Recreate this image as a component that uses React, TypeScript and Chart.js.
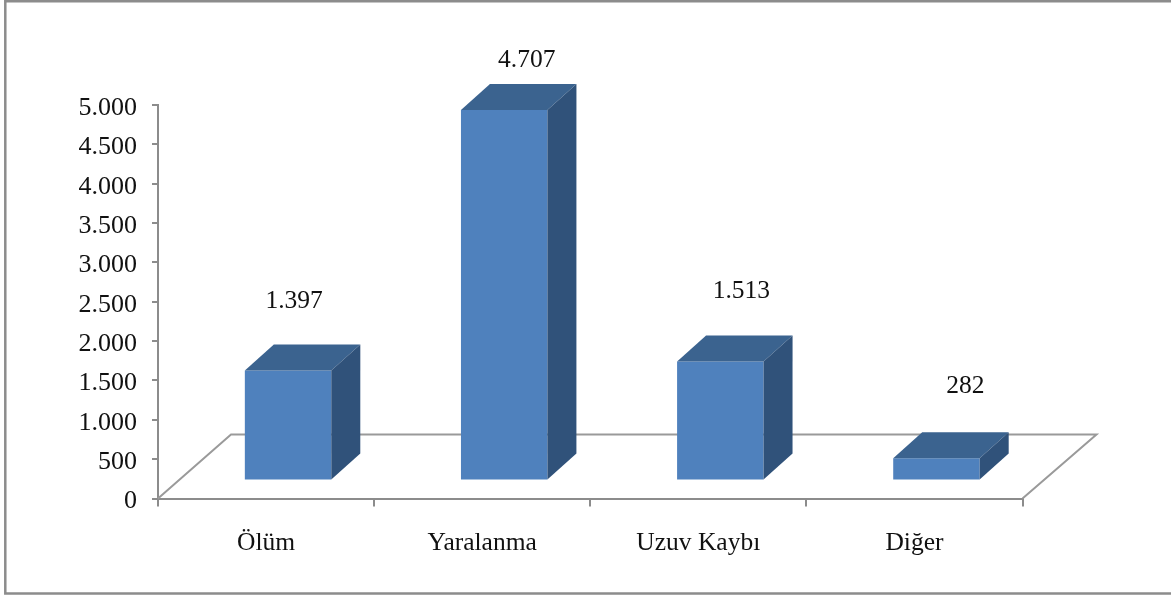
import React, { useEffect, useRef } from "react";
import { Chart, registerables } from "chart.js";

Chart.register(...registerables);

const categories = ["Ölüm", "Yaralanma", "Uzuv Kaybı", "Diğer"];
const values = [1397, 4707, 1513, 282];
const labelShiftX = [28, 44.5, 43, 51];
const labelCenterY = [301, 60, 291, 386];

const FONT = "'Liberation Serif', 'Times New Roman', serif";
const GRAY = "#8c8c8c";
const SHIFT_X = 22;
const LIFT = 18;
const DX = 29;
const DY = 26;
const fmt = (v: number) => String(v).replace(/\B(?=(\d{3})+(?!\d))/g, ".");

const threeD = {
  id: "threeD",
  afterUpdate(chart: any) {
    chart.scales.y.getLabelItems().forEach((item: any) => {
      item.options.translation[1] += 3;
    });
  },
  beforeDatasetsDraw(chart: any) {
    const { ctx, chartArea: a } = chart;
    ctx.save();
    ctx.strokeStyle = "#9a9a9a";
    ctx.lineWidth = 2;
    ctx.beginPath();
    ctx.moveTo(a.left, a.bottom);
    ctx.lineTo(a.left + 73, a.bottom - 64);
    ctx.lineTo(a.right + 74, a.bottom - 64);
    ctx.lineTo(a.right, a.bottom);
    ctx.stroke();
    ctx.restore();
    ctx.save();
    ctx.translate(SHIFT_X, -LIFT);
  },
  afterDatasetsDraw(chart: any) {
    const { ctx } = chart;
    chart.getDatasetMeta(0).data.forEach((bar: any) => {
      const l = bar.x - bar.width / 2;
      const r = bar.x + bar.width / 2;
      const t = bar.y;
      const b = bar.base;
      ctx.fillStyle = "#3b638f";
      ctx.beginPath();
      ctx.moveTo(l, t);
      ctx.lineTo(l + DX, t - DY);
      ctx.lineTo(r + DX, t - DY);
      ctx.lineTo(r, t);
      ctx.closePath();
      ctx.fill();
      ctx.fillStyle = "#30527a";
      ctx.beginPath();
      ctx.moveTo(r, t);
      ctx.lineTo(r + DX, t - DY);
      ctx.lineTo(r + DX, b - DY);
      ctx.lineTo(r, b);
      ctx.closePath();
      ctx.fill();
    });
    ctx.restore();
    ctx.save();
    ctx.fillStyle = "#111";
    ctx.font = `25.5px ${FONT}`;
    ctx.textAlign = "center";
    ctx.textBaseline = "middle";
    chart.getDatasetMeta(0).data.forEach((bar: any, i: number) => {
      ctx.fillText(fmt(values[i]), bar.x + labelShiftX[i], labelCenterY[i]);
    });
    ctx.restore();
  },
  afterDraw(chart: any) {
    const { ctx, width, height } = chart;
    ctx.save();
    ctx.strokeStyle = GRAY;
    ctx.lineWidth = 2.5;
    ctx.beginPath();
    ctx.moveTo(width, 1.3);
    ctx.lineTo(5.3, 1.3);
    ctx.lineTo(5.3, height - 3.5);
    ctx.lineTo(width, height - 3.5);
    ctx.stroke();
    ctx.restore();
  },
};

export default function App() {
  const ref = useRef<HTMLCanvasElement>(null);
  useEffect(() => {
    document.body.style.margin = "0";
    document.body.style.background = "#fff";
    const chart = new Chart(ref.current!, {
      type: "bar",
      data: {
        labels: categories,
        datasets: [
          {
            data: values,
            backgroundColor: "#4f81bd",
            borderWidth: 0,
            categoryPercentage: 1,
            barPercentage: 0.4,
          },
        ],
      },
      options: {
        responsive: false,
        animation: false,
        events: [],
        layout: { padding: { left: 78, top: 105, right: 148.5, bottom: 18.5 } },
        plugins: { legend: { display: false }, tooltip: { enabled: false }, title: { display: false } },
        scales: {
          x: {
            offset: true,
            afterFit: (s: any) => {
              s.height = 80;
            },
            border: { display: true, color: GRAY, width: 2 },
            grid: {
              offset: true,
              drawOnChartArea: false,
              drawTicks: true,
              tickLength: 8,
              color: GRAY,
              lineWidth: 2,
            },
            ticks: {
              font: { family: FONT, size: 25.5 },
              color: "#111",
              padding: 21,
              maxRotation: 0,
            },
          },
          y: {
            min: 0,
            max: 5000,
            afterFit: (s: any) => {
              s.width = 80;
            },
            border: { display: true, color: GRAY, width: 2 },
            grid: {
              drawOnChartArea: false,
              drawTicks: true,
              tickLength: 6,
              color: GRAY,
              lineWidth: 2,
            },
            ticks: {
              stepSize: 500,
              font: { family: FONT, size: 26 },
              color: "#111",
              padding: 15,
              callback: (v: any) => fmt(Number(v)),
            },
          },
        },
      },
      plugins: [threeD],
    } as any);
    return () => chart.destroy();
  }, []);
  return <canvas ref={ref} width={1171} height={597} style={{ display: "block" }} />;
}
